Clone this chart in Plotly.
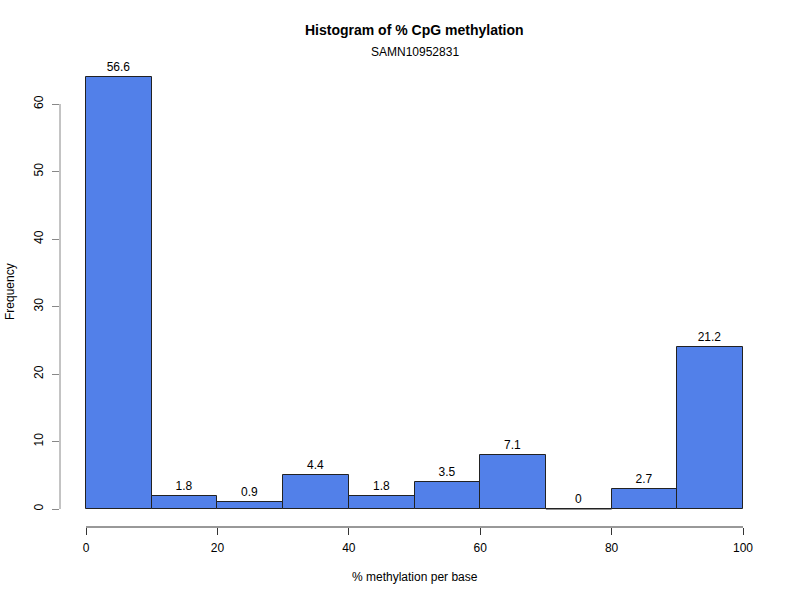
import plotly.graph_objects as go

bin_left = [0, 10, 20, 30, 40, 50, 60, 70, 80, 90]
counts = [64, 2, 1, 5, 2, 4, 8, 0, 3, 24]
labels = ["56.6", "1.8", "0.9", "4.4", "1.8", "3.5", "7.1", "0", "2.7", "21.2"]
x_ticks = [0, 20, 40, 60, 80, 100]
y_ticks = [0, 10, 20, 30, 40, 50, 60]

bin_width = 10
centers = [b + bin_width / 2 for b in bin_left]

fig = go.Figure()
fig.add_trace(go.Bar(
    x=centers, y=counts, width=[bin_width] * len(centers),
    marker=dict(color="#5280E9", line=dict(color="#222222", width=1)),
    text=labels, textposition="outside", cliponaxis=False,
    textfont=dict(size=12, color="black", family="Liberation Sans, Arial"),
    showlegend=False, hoverinfo="skip",
))
# zero-height bins are drawn as a flat outline, as R does
for b, c in zip(bin_left, counts):
    if c == 0:
        fig.add_trace(go.Scatter(x=[b, b + bin_width], y=[c, c], mode="lines",
                                 line=dict(color="#222222", width=1),
                                 showlegend=False, hoverinfo="skip"))

W, H = 800, 600
ml, mr, mt, mb = 60, 30, 40, 73
px_per_x = 6.57
x0_px = 86
px_per_y = 6.75
y0_px = 509
xr = [(ml - x0_px) / px_per_x, (W - mr - x0_px) / px_per_x]
yr = [(y0_px - (H - mb)) / px_per_y, (y0_px - mt) / px_per_y]

font = dict(family="Liberation Sans, Arial", size=12, color="black")

fig.update_layout(
    width=W, height=H, margin=dict(l=ml, r=mr, t=mt, b=mb),
    plot_bgcolor="white", paper_bgcolor="white", font=font,
    bargap=0,
    xaxis=dict(range=xr, tickvals=x_ticks, ticks="outside", ticklen=7,
               tickcolor="#333333", showgrid=False, zeroline=False,
               showline=False, tickfont=font, ticklabelstandoff=3),
    yaxis=dict(range=yr, tickvals=y_ticks, ticks="outside", ticklen=7,
               tickcolor="#888888", showgrid=False, zeroline=False,
               showline=False, tickangle=-90, tickfont=font,
               ticklabelstandoff=4),
    shapes=[
        dict(type="line", xref="x", yref="paper", x0=0, x1=100, y0=0, y1=0,
             line=dict(color="#333333", width=1)),
        dict(type="line", xref="paper", yref="y", x0=0, x1=0, y0=0, y1=60,
             line=dict(color="#888888", width=1)),
    ],
    annotations=[
        dict(text="<b>Histogram of % CpG methylation</b>", x=50, xref="x",
             y=30, yref="paper", showarrow=False,
             font=dict(family="Liberation Sans, Arial", size=14, color="black")),
        dict(text="SAMN10952831", x=50, xref="x", y=52, yref="paper",
             showarrow=False, font=font),
        dict(text="% methylation per base", x=50, xref="x", y=577,
             yref="paper", showarrow=False, font=font),
        dict(text="Frequency", x=10, xref="paper", y=292, yref="paper",
             showarrow=False, textangle=-90, font=font),
    ],
)

ph = H - mt - mb
pw = W - ml - mr
for a in fig.layout.annotations:
    a.xanchor = "center"
    a.yanchor = "middle"
    if a.yref == "paper":
        a.y = (H - mb - a.y) / ph
    if a.xref == "paper":
        a.x = (a.x - ml) / pw

fig.write_html("out.html")
